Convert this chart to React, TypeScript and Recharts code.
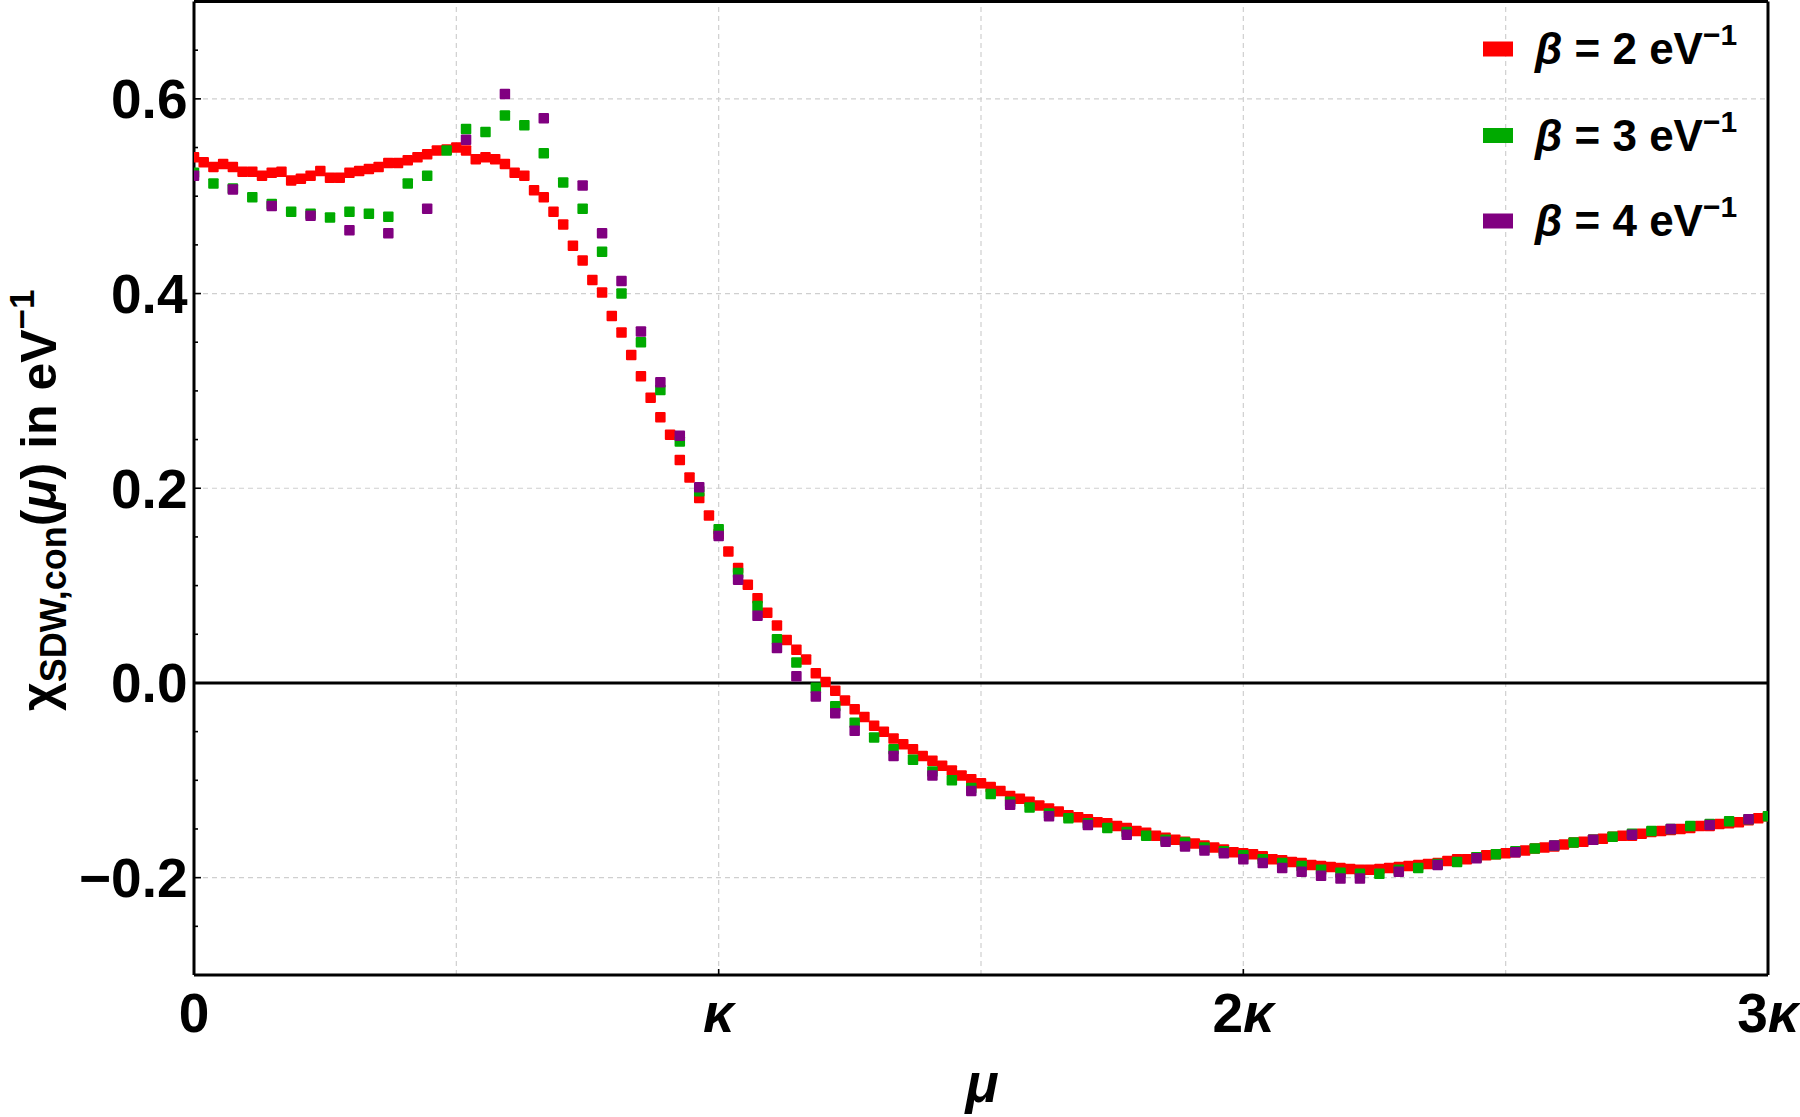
import React from "react";
import { ScatterChart, Scatter, XAxis, YAxis, ReferenceLine, Legend } from "recharts";

const FONT = '"Liberation Sans", Arial, Helvetica, sans-serif';
const RED = "#ff0000";
const GREEN = "#00aa00";
const PURPLE = "#800080";

// mu is sampled in units of kappa: red every kappa/54, green and purple every kappa/27
const RED_STEP = 1 / 54;
const GP_STEP = 1 / 27;

// beta = 2 eV^-1
const redChi = [
  0.540, 0.535, 0.530, 0.533, 0.530, 0.525, 0.525, 0.521, 0.524, 0.525,
  0.516, 0.518, 0.521, 0.526, 0.519, 0.519, 0.524, 0.526, 0.528, 0.530,
  0.534, 0.534, 0.537, 0.540, 0.543, 0.547, 0.548, 0.550, 0.547, 0.538,
  0.540, 0.538, 0.533, 0.524, 0.521, 0.506, 0.499, 0.484, 0.471, 0.449,
  0.434, 0.414, 0.401, 0.377, 0.360, 0.337, 0.315, 0.293, 0.273, 0.255,
  0.229, 0.211, 0.190, 0.172, 0.153, 0.135, 0.118, 0.101, 0.087, 0.072,
  0.059, 0.044, 0.034, 0.024, 0.010, 0.001, -0.008, -0.018, -0.027, -0.035,
  -0.044, -0.050, -0.057, -0.063, -0.068, -0.075, -0.080, -0.085, -0.090, -0.095,
  -0.099, -0.103, -0.107, -0.111, -0.116, -0.119, -0.122, -0.126, -0.129, -0.132,
  -0.136, -0.138, -0.140, -0.143, -0.144, -0.147, -0.149, -0.152, -0.154, -0.157,
  -0.159, -0.161, -0.163, -0.165, -0.167, -0.169, -0.171, -0.174, -0.175, -0.176,
  -0.178, -0.181, -0.182, -0.184, -0.185, -0.187, -0.188, -0.189, -0.190, -0.191,
  -0.192, -0.192, -0.191, -0.190, -0.189, -0.188, -0.187, -0.186, -0.185, -0.183,
  -0.181, -0.181, -0.179, -0.177, -0.176, -0.175, -0.174, -0.172, -0.170, -0.169,
  -0.168, -0.166, -0.164, -0.163, -0.161, -0.160, -0.158, -0.157, -0.157, -0.155,
  -0.153, -0.152, -0.151, -0.150, -0.149, -0.147, -0.147, -0.145, -0.144, -0.143,
  -0.141, -0.139, -0.137,
];

// beta = 3 eV^-1
const greenChi = [
  0.524, 0.513, 0.508, 0.499, 0.492, 0.484, 0.482, 0.478, 0.484, 0.482,
  0.479, 0.513, 0.521, 0.547, 0.569, 0.566, 0.583, 0.573, 0.544, 0.514,
  0.487, 0.443, 0.400, 0.350, 0.301, 0.248, 0.197, 0.158, 0.113, 0.079,
  0.045, 0.021, -0.005, -0.024, -0.041, -0.056, -0.068, -0.079, -0.091, -0.100,
  -0.108, -0.114, -0.122, -0.128, -0.134, -0.139, -0.144, -0.149, -0.153, -0.157,
  -0.161, -0.164, -0.169, -0.173, -0.177, -0.181, -0.185, -0.188, -0.192, -0.195,
  -0.196, -0.196, -0.192, -0.190, -0.186, -0.184, -0.179, -0.176, -0.173, -0.170,
  -0.167, -0.164, -0.161, -0.158, -0.155, -0.152, -0.150, -0.147, -0.145, -0.142,
  -0.140, -0.137,
];

// beta = 4 eV^-1 (null where no point was drawn)
const purpleChi = [
  0.521, null, 0.507, null, 0.490, null, 0.480, null, 0.465, null,
  0.462, null, 0.487, null, 0.558, null, 0.605, null, 0.580, null,
  0.511, 0.462, 0.413, 0.361, 0.309, 0.254, 0.201, 0.151, 0.106, 0.069,
  0.036, 0.007, -0.014, -0.031, -0.049, null, -0.075, null, -0.095, null,
  -0.111, null, -0.125, null, -0.137, null, -0.146, null, -0.156, null,
  -0.163, -0.168, -0.172, -0.175, -0.181, -0.185, -0.190, -0.194, -0.198, -0.201,
  -0.201, null, -0.194, null, -0.187, null, -0.180, null, -0.174, null,
  -0.167, null, -0.161, null, -0.156, null, -0.150, null, -0.146, null,
  -0.140, null,
];

const xTicks = [0, 1, 2, 3];
const xTickLabels = ["0", "κ", "2κ", "3κ"];
const yTicks = [
  -0.3, -0.25, -0.2, -0.15, -0.1, -0.05, 0, 0.05, 0.1, 0.15, 0.2,
  0.25, 0.3, 0.35, 0.4, 0.45, 0.5, 0.55, 0.6, 0.65, 0.7,
];
const yLabelled = [-0.2, 0, 0.2, 0.4, 0.6];
const xGrid = [0.5, 1, 1.5, 2, 2.5];
const yGrid = [-0.2, 0.2, 0.4, 0.6];

const legendItems = [
  { beta: "2", color: RED },
  { beta: "3", color: GREEN },
  { beta: "4", color: PURPLE },
];

const toPoints = (vals: Array<number | null>, step: number) =>
  vals
    .map((chi, i) => ({ mu: i * step, chi }))
    .filter((p) => p.chi !== null);

const redData = toPoints(redChi, RED_STEP);
const greenData = toPoints(greenChi, GP_STEP);
const purpleData = toPoints(purpleChi, GP_STEP);

const fmtY = (v: number) => `${v < 0 ? "−" : ""}${Math.abs(v).toFixed(1)}`;

function square(props: any) {
  const { cx, cy, fill } = props;
  if (cx == null || cy == null) return <g />;
  const s = 10.5;
  return <rect x={cx - s / 2} y={cy - s / 2} width={s} height={s} rx={1} fill={fill} />;
}

function YTick(props: any) {
  const { x, y, payload } = props;
  const v = payload.value as number;
  const major = yLabelled.some((m) => Math.abs(m - v) < 1e-6);
  return (
    <g>
      <line x1={x} x2={x + (major ? 7 : 4)} y1={y} y2={y} stroke="#000" strokeWidth={1.6} />
      {major && (
        <text x={x - 6.5} y={y + 19.5} textAnchor="end" fontFamily={FONT} fontWeight="bold" fontSize={55} fill="#000">
          {fmtY(v)}
        </text>
      )}
    </g>
  );
}

function XTick(props: any) {
  const { x, y, payload, index } = props;
  const label = xTickLabels[index] ?? String(payload.value);
  const num = label.replace("κ", "");
  const hasKappa = label.includes("κ");
  return (
    <g>
      <line x1={x} x2={x} y1={y} y2={y - 6} stroke="#000" strokeWidth={1.6} />
      <text x={x} y={y + 57} textAnchor="middle" fontFamily={FONT} fontWeight="bold" fontSize={55} fill="#000">
        {num}
        {hasKappa && <tspan fontStyle="italic">κ</tspan>}
      </text>
    </g>
  );
}

function XTitle(props: any) {
  const vb = props.viewBox || { x: 194, y: 975, width: 1574, height: 142 };
  return (
    <text
      x={vb.x + 788}
      y={vb.y + 127}
      textAnchor="middle"
      fontFamily={FONT}
      fontWeight="bold"
      fontStyle="italic"
      fontSize={55}
      fill="#000"
    >
      μ
    </text>
  );
}

function YTitle(props: any) {
  const vb = props.viewBox || { x: 0, y: 0, width: 194, height: 974 };
  const bx = 56;
  const cy = vb.y + vb.height / 2 + 12;
  return (
    <text
      transform={`rotate(-90, ${bx}, ${cy})`}
      x={bx}
      y={cy}
      textAnchor="middle"
      fontFamily={FONT}
      fontWeight="bold"
      fontSize={50}
      fill="#000"
    >
      <tspan>χ</tspan>
      <tspan fontSize={36} dy={10}>SDW,con</tspan>
      <tspan dy={-10}>(</tspan>
      <tspan fontStyle="italic">μ</tspan>
      <tspan>) in eV</tspan>
      <tspan fontSize={35} dy={-22}>−1</tspan>
    </text>
  );
}

function LegendBox() {
  const centers = [49, 135.5, 221];
  return (
    <svg width={1800} height={280} style={{ display: "block" }}>
      {legendItems.map((it, k) => (
        <g key={it.beta}>
          <rect x={1483} y={centers[k] - 7.5} width={30} height={15} fill={it.color} />
          <text x={1535} y={centers[k] + 15} fontFamily={FONT} fontWeight="bold" fontSize={44} fill="#000">
            <tspan fontStyle="italic">β</tspan>
            <tspan>{` = ${it.beta} eV`}</tspan>
            <tspan fontSize={30} dy={-19}>−1</tspan>
          </text>
        </g>
      ))}
    </svg>
  );
}

export default function App() {
  return (
    <div style={{ position: "absolute", left: 0, top: 0, width: 1800, height: 1117, background: "#fff" }}>
      <ScatterChart width={1800} height={1117} margin={{ top: 1.5, right: 32, bottom: 0, left: 0 }}>
        <XAxis
          type="number"
          dataKey="mu"
          domain={[0, 3]}
          ticks={xTicks}
          allowDataOverflow
          height={142}
          tickSize={0}
          tickMargin={0}
          tick={<XTick />}
          axisLine={{ stroke: "#000", strokeWidth: 3 }}
          label={<XTitle />}
        />
        <YAxis
          type="number"
          dataKey="chi"
          domain={[-0.3, 0.7]}
          ticks={yTicks}
          allowDataOverflow
          width={194}
          tickSize={0}
          tickMargin={0}
          tick={<YTick />}
          interval={0}
          axisLine={{ stroke: "#000", strokeWidth: 3 }}
          label={<YTitle />}
        />
        {xGrid.map((g) => (
          <ReferenceLine key={`xg${g}`} x={g} stroke="#cfcfcf" strokeWidth={1.2} strokeDasharray="5 4" />
        ))}
        {yGrid.map((g) => (
          <ReferenceLine key={`yg${g}`} y={g} stroke="#cfcfcf" strokeWidth={1.2} strokeDasharray="5 4" />
        ))}
        <ReferenceLine y={0} stroke="#000" strokeWidth={3} />
        <ReferenceLine y={0.7} stroke="#000" strokeWidth={3} />
        <ReferenceLine x={3} stroke="#000" strokeWidth={3} />
        <Scatter data={redData} fill={RED} shape={square} isAnimationActive={false} />
        <Scatter data={greenData} fill={GREEN} shape={square} isAnimationActive={false} />
        <Scatter data={purpleData} fill={PURPLE} shape={square} isAnimationActive={false} />
        <Legend
          layout="vertical"
          align="center"
          verticalAlign="middle"
          wrapperStyle={{ left: 0, top: 0, width: 1800, height: 280, pointerEvents: "none" }}
          content={<LegendBox />}
        />
      </ScatterChart>
    </div>
  );
}
